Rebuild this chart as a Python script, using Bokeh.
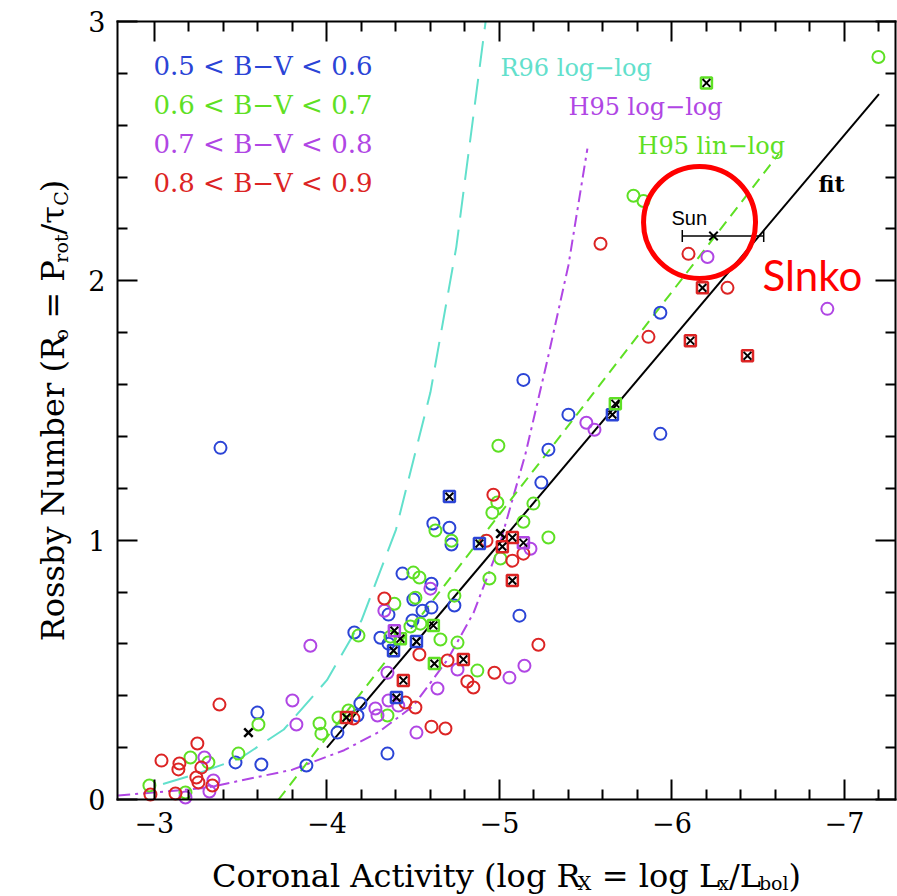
import math
from bokeh.plotting import figure
from bokeh.models import Range1d, FixedTicker, LinearAxis, Label, CustomJSTickFormatter
from bokeh.embed import file_html
from bokeh.resources import INLINE

# ---------------- data ----------------
blue_x = [-3.383, -5.139, -5.400, -5.284, -5.243, -5.933, -5.933, -5.116, -4.617, -4.710,
          -4.722, -4.438, -4.606, -4.739, -4.501, -4.554, -4.606, -4.357, -4.159, -4.310,
          -4.357, -4.496, -4.194, -4.177, -4.061, -4.351, -3.881, -3.597, -3.470, -3.620]
blue_y = [1.356, 1.618, 1.484, 1.349, 1.222, 1.877, 1.410, 0.709, 1.064, 1.048,
          0.983, 0.871, 0.832, 0.748, 0.771, 0.728, 0.740, 0.713, 0.644, 0.624,
          0.601, 0.690, 0.370, 0.324, 0.258, 0.177, 0.131, 0.335, 0.143, 0.135]
blue_cx = [-4.710, -5.655, -4.884, -4.386, -4.519, -4.403]
blue_cy = [1.168, 1.484, 0.987, 0.574, 0.609, 0.393]

green_x = [-7.197, -5.777, -5.835, -4.994, -4.988, -4.959, -5.197, -5.139, -5.284, -5.006,
           -4.942, -4.629, -4.722, -4.501, -4.536, -4.739, -4.391, -4.513, -4.183, -4.542,
           -4.484, -4.757, -4.658, -4.872, -4.067, -4.125, -4.351, -3.957, -3.968, -3.603,
           -3.487, -3.209, -3.313, -2.971, -3.180, -4.368]
green_y = [2.863, 2.328, 2.308, 1.364, 1.145, 1.106, 1.141, 1.071, 1.010, 0.929,
           0.852, 1.037, 0.998, 0.875, 0.856, 0.786, 0.755, 0.778, 0.632, 0.678,
           0.667, 0.605, 0.617, 0.497, 0.316, 0.343, 0.324, 0.293, 0.254, 0.289,
           0.177, 0.162, 0.143, 0.054, 0.027, 0.628]
green_cx = [-6.200, -5.672, -4.617, -4.623, -4.426]
green_cy = [2.763, 1.526, 0.671, 0.524, 0.620]

purple_x = [-6.206, -6.901, -5.504, -5.551, -5.180, -5.058, -5.145, -4.600, -4.333, -4.757,
            -4.641, -4.357, -4.414, -4.519, -4.281, -4.293, -3.904, -3.800, -3.823, -3.290,
            -3.342, -3.319, -3.180, -4.351]
purple_y = [2.092, 1.892, 1.453, 1.426, 0.967, 0.470, 0.516, 0.813, 0.728, 0.501,
            0.428, 0.382, 0.362, 0.258, 0.351, 0.324, 0.593, 0.382, 0.289, 0.162,
            0.073, 0.031, 0.008, 0.489]
purple_cx = [-4.391, -5.139]
purple_cy = [0.651, 0.990]

red_x = [-5.586, -6.096, -6.322, -5.864, -4.965, -4.925, -5.139, -5.075, -5.226, -4.971,
         -4.333, -4.536, -4.699, -4.814, -4.849, -4.455, -4.513, -4.606, -4.687, -4.154,
         -3.377, -3.249, -3.041, -3.145, -3.139, -3.272, -3.243, -3.255, -3.336, -2.977,
         -3.122]
red_y = [2.143, 2.104, 1.973, 1.784, 1.175, 0.998, 0.948, 0.921, 0.597, 0.489,
         0.775, 0.559, 0.536, 0.455, 0.432, 0.374, 0.355, 0.281, 0.274, 0.312,
         0.366, 0.216, 0.150, 0.139, 0.116, 0.123, 0.085, 0.066, 0.054, 0.019,
         0.023]
red_cx = [-6.177, -6.107, -6.438, -5.075, -5.017, -5.075, -4.791, -4.443, -4.113]
red_cy = [1.973, 1.769, 1.711, 1.010, 0.975, 0.844, 0.540, 0.459, 0.316]

black_x = [-5.006, -3.545]
black_y = [1.025, 0.258]

sun_x = [-6.241]
sun_y = [2.173]
sun_lo = [-6.060]
sun_hi = [-6.532]

fit_x = [-4.0, -7.2]
fit_y = [0.20, 2.72]
h95lin_x = [-3.72, -6.62]
h95lin_y = [0.0, 2.49]
r96_x = [-3.05, -3.25, -3.5, -3.75, -4.0, -4.2, -4.4, -4.6, -4.75, -4.92]
r96_y = [0.06, 0.10, 0.16, 0.27, 0.46, 0.69, 1.04, 1.57, 2.13, 3.0]
h95log_x = [-2.79, -3.3, -3.8, -4.1, -4.3, -4.5, -4.7, -4.85, -5.0, -5.15, -5.28, -5.4, -5.51]
h95log_y = [0.015, 0.045, 0.115, 0.19, 0.26, 0.36, 0.54, 0.72, 0.98, 1.33, 1.70, 2.06, 2.51]

highlight_x = [-6.160]
highlight_y = [2.225]

x_major = [-3, -4, -5, -6, -7]
x_minor = [-3.2, -3.4, -3.6, -3.8, -4.2, -4.4, -4.6, -4.8, -5.2, -5.4, -5.6, -5.8,
           -6.2, -6.4, -6.6, -6.8, -7.2]
y_major = [0, 1, 2, 3]
y_minor = [0.2, 0.4, 0.6, 0.8, 1.2, 1.4, 1.6, 1.8, 2.2, 2.4, 2.6, 2.8]

legend_labels = ["0.5 < B\u2212V < 0.6", "0.6 < B\u2212V < 0.7",
                 "0.7 < B\u2212V < 0.8", "0.8 < B\u2212V < 0.9"]

# ---------------- style / geometry ----------------
BLUE = "#2b44d6"
GREEN = "#5ee024"
PURPLE = "#b046e4"
RED = "#dc2424"
CYAN = "#62e0cc"
SERIF = "DejaVu Serif"

W, H = 897, 896
FL, FR, FT, FB = 117, 895, 21, 799       # the plot box inside the canvas (pixels)
X0, X1 = -2.786, -7.296                  # data values at the box's left / right edge
Y0, Y1 = 0.0, 3.0                        # data values at the box's bottom / top edge
sx = (X1 - X0) / (FR - FL)
sy = (Y1 - Y0) / (FB - FT)


def dx(px):
    return X0 + (px - FL) * sx


def dy(py):
    return Y0 + (FB - py) * sy


# the frame covers the whole canvas; axes are pinned onto the box edges
p = figure(width=W, height=H, output_backend="svg", toolbar_location=None, title=None,
           x_range=Range1d(dx(0), dx(W)), y_range=Range1d(dy(H), dy(0)),
           x_axis_type=None, y_axis_type=None,
           min_border_left=0, min_border_right=0, min_border_top=0, min_border_bottom=0)
p.outline_line_color = None
p.background_fill_color = "white"
p.border_fill_color = "white"

fmt = CustomJSTickFormatter(code="return (tick < 0 ? '\\u2212' : '') + Math.abs(tick).toFixed(0);")


def make_axis(major, minor, loc, bounds, labels):
    ax = LinearAxis(ticker=FixedTicker(ticks=major, minor_ticks=minor),
                    fixed_location=loc, bounds=bounds)
    ax.axis_line_width = 2
    ax.axis_line_cap = "square"
    ax.major_tick_line_width = 2
    ax.minor_tick_line_width = 2
    ax.major_tick_in = 20
    ax.major_tick_out = 0
    ax.minor_tick_in = 10
    ax.minor_tick_out = 0
    if labels:
        ax.formatter = fmt
        ax.major_label_text_font = SERIF
        ax.major_label_text_font_size = "27px"
        ax.major_label_text_color = "black"
        ax.major_label_standoff = 12
    else:
        ax.formatter = CustomJSTickFormatter(code="return '';")
    return ax


xbounds = (min(X0, X1), max(X0, X1))
ybounds = (Y0, Y1)
p.add_layout(make_axis(x_major, x_minor, Y0, xbounds, True), "below")
p.add_layout(make_axis(x_major, x_minor, Y1, xbounds, False), "above")
p.add_layout(make_axis(y_major, y_minor, X0, ybounds, True), "left")
p.add_layout(make_axis(y_major, y_minor, X1, ybounds, False), "right")

# ---------------- curves ----------------
p.line(r96_x, r96_y, line_color=CYAN, line_width=2, line_dash="26 12")
p.line(h95log_x, h95log_y, line_color=PURPLE, line_width=2, line_dash="12 5 3 5")
p.line(h95lin_x, h95lin_y, line_color=GREEN, line_width=2, line_dash="11 7")
p.line(fit_x, fit_y, line_color="black", line_width=2)

# ---------------- points ----------------
MS = 12
for xs, ys, c in [(blue_x, blue_y, BLUE), (green_x, green_y, GREEN),
                  (purple_x, purple_y, PURPLE), (red_x, red_y, RED)]:
    p.scatter(xs, ys, marker="circle", size=MS, fill_color=None, line_color=c, line_width=2)
for xs, ys, c in [(blue_cx, blue_cy, BLUE), (green_cx, green_cy, GREEN),
                  (purple_cx, purple_cy, PURPLE), (red_cx, red_cy, RED)]:
    p.scatter(xs, ys, marker="square", size=11, fill_color=None, line_color=c, line_width=2.5)
    p.scatter(xs, ys, marker="x", size=11, line_color="black", line_width=2)
p.scatter(black_x, black_y, marker="x", size=MS, line_color="black", line_width=2.5)

# Sun with error bar
p.segment(sun_lo, sun_y, sun_hi, sun_y, line_color="black", line_width=1.5)
p.scatter(sun_lo + sun_hi, sun_y + sun_y, marker="dash", angle=math.pi / 2, size=12,
          line_color="black", line_width=1.5)
p.scatter(sun_x, sun_y, marker="x", size=MS, line_color="black", line_width=2)

# highlight circle
p.scatter(highlight_x, highlight_y, marker="circle", size=112, fill_color=None,
          line_color="#ff0000", line_width=5)


# ---------------- texts ----------------
def add_label(text, px, py, color="black", font=SERIF, size=24, style="normal",
              align="left", baseline="middle", angle=0.0):
    p.add_layout(Label(x=dx(px), y=dy(py), text=text, text_color=color, text_font=font,
                       text_font_size=f"{size}px", text_font_style=style, text_align=align,
                       text_baseline=baseline, angle=angle))


for i, (lab, c) in enumerate(zip(legend_labels, [BLUE, GREEN, PURPLE, RED])):
    add_label(lab, 153, 65 + 39 * i, color=c, size=26)

add_label("R96 log\u2212log", 500, 67, color=CYAN, size=24)
add_label("H95 log\u2212log", 568, 106, color=PURPLE, size=24)
add_label("H95 lin\u2212log", 637, 145, color=GREEN, size=24)
add_label("fit", 818, 183, size=22, style="bold")
add_label("Sun", 671, 217, font="Liberation Sans", size=20)
add_label("Slnko", 762, 274, color="#ff0000", font="Lato", size=42)

# composite axis labels (with subscripts); leading blanks are turned into an advance
WID = {' ': 0.318, 'R': 0.715, 'o': 0.602, 's': 0.513, 'b': 0.640, 'y': 0.565, 'N': 0.811,
       'u': 0.644, 'm': 0.948, 'e': 0.592, 'r': 0.478, '(': 0.390, ')': 0.390, '=': 0.838,
       'P': 0.600, 't': 0.402, '/': 0.337, '\u03c4': 0.56, 'C': 0.715, 'A': 0.722, 'c': 0.560,
       'n': 0.644, 'a': 0.596, 'l': 0.320, 'i': 0.320, 'v': 0.565, 'g': 0.640, 'L': 0.600,
       'X': 0.727, 'x': 0.565}
MAIN, SUB = 32, 19


def wdt(s, size):
    return sum(WID.get(ch, 0.6) for ch in s) * size


xl_pieces = [("Coronal Activity (log R", False), ("X", True), (" = log L", False),
             ("x", True), ("/L", False), ("bol", True), (")", False)]
total = sum(wdt(t, SUB if s else MAIN) for t, s in xl_pieces)
cur = (FL + FR) / 2 - total / 2
for t, s in xl_pieces:
    sz = SUB if s else MAIN
    lead = len(t) - len(t.lstrip(" "))
    cur += lead * WID[' '] * sz
    add_label(t.lstrip(" "), cur, 882 if s else 875, size=sz, baseline="alphabetic")
    cur += wdt(t.lstrip(" "), sz)

yl_pieces = [("Rossby Number (R", False), ("o", True), (" = P", False), ("rot", True),
             ("/\u03c4", False), ("C", True), (")", False)]
total = sum(wdt(t, SUB if s else MAIN) for t, s in yl_pieces)
cur = (FT + FB) / 2 + total / 2
for t, s in yl_pieces:
    sz = SUB if s else MAIN
    lead = len(t) - len(t.lstrip(" "))
    cur -= lead * WID[' '] * sz
    add_label(t.lstrip(" "), 60 if s else 52, cur, size=sz, baseline="alphabetic",
              angle=math.pi / 2)
    cur -= wdt(t.lstrip(" "), sz)

open("out.html", "w").write(file_html(p, INLINE))
